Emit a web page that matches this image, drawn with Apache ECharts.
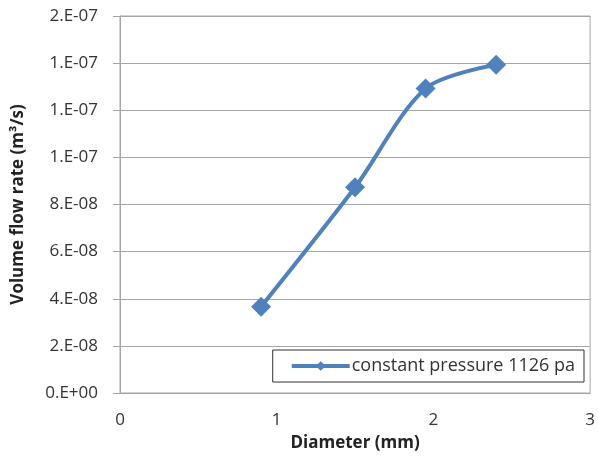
<!DOCTYPE html>
<html>
<head>
<meta charset="utf-8">
<script src="https://cdn.jsdelivr.net/npm/echarts@6/dist/echarts.min.js"></script>
<style>
  html, body { margin: 0; padding: 0; background: #fff; }
  #chart { width: 598px; height: 463px; }
</style>
</head>
<body>
<div id="chart"></div>
<script>
// values
const diameters = [0.9, 1.5, 1.95, 2.4]
const flowRates = [3.66e-8, 8.73e-8, 1.292e-7, 1.393e-7]
const seriesName = 'constant pressure 1126 pa'

// Excel style "2.E-08"
function sciLabel(v) {
    if (v === 0) return '0.E+00'
    const parts = v.toExponential(0).split('e')
    const exp = parseInt(parts[1], 10)
    const sign = exp < 0 ? '-' : '+'
    const e = String(Math.abs(exp)).padStart(2, '0')
    return parts[0] + '.E' + sign + e
}

const font = '"Open Sans", Lato, sans-serif'
const myChart = echarts.init(document.getElementById('chart'))

const option = {
    animation: false,
    textStyle: { fontFamily: font },
    grid: {
        left: 120, right: 6, top: 16, bottom: 70,
        show: true,
        borderColor: '#a6a6a6',
        borderWidth: 1
    },
    legend: {
        data: [seriesName],
        right: 14,
        top: 350,
        orient: 'horizontal',
        borderColor: '#333',
        borderWidth: 1,
        borderRadius: 0,
        padding: [7, 9, 7, 17],
        itemWidth: 58,
        itemHeight: 12,
        itemGap: 0,
        lineStyle: { width: 4 },
        textStyle: { fontFamily: font, fontSize: 18, color: '#333', padding: [0, 0, 0, -3] }
    },
    xAxis: {
        type: 'value',
        min: 0, max: 3, interval: 1,
        name: 'Diameter (mm)',
        nameLocation: 'middle',
        nameGap: 42,
        nameTextStyle: { fontFamily: font, fontSize: 17, fontWeight: 'bold', color: '#222' },
        axisLine: { show: true, lineStyle: { color: '#a6a6a6' } },
        axisTick: { show: false },
        splitLine: { show: false },
        axisLabel: { fontSize: 17, color: '#333', margin: 19 }
    },
    yAxis: {
        type: 'value',
        min: 0, max: 1.6e-7, interval: 2e-8,
        name: 'Volume flow rate (m³/s)',
        nameLocation: 'middle',
        nameGap: 93,
        nameTextStyle: { fontFamily: font, fontSize: 17, fontWeight: 'bold', color: '#222' },
        axisLine: { show: true, lineStyle: { color: '#a6a6a6' } },
        axisTick: { show: true, length: 7, lineStyle: { color: '#a6a6a6' } },
        splitLine: { show: true, lineStyle: { color: '#a6a6a6' } },
        axisLabel: {
            fontSize: 17, color: '#333', margin: 22,
            formatter: sciLabel
        }
    },
    series: [
        {
            name: seriesName,
            type: 'line',
            smooth: 0.3,
            data: diameters.map((d, i) => [d, flowRates[i]]),
            symbol: 'diamond',
            symbolSize: 20,
            lineStyle: { color: '#4f81bd', width: 4 },
            itemStyle: { color: '#4f81bd' }
        }
    ]
}

option && myChart.setOption(option)
</script>
</body>
</html>
